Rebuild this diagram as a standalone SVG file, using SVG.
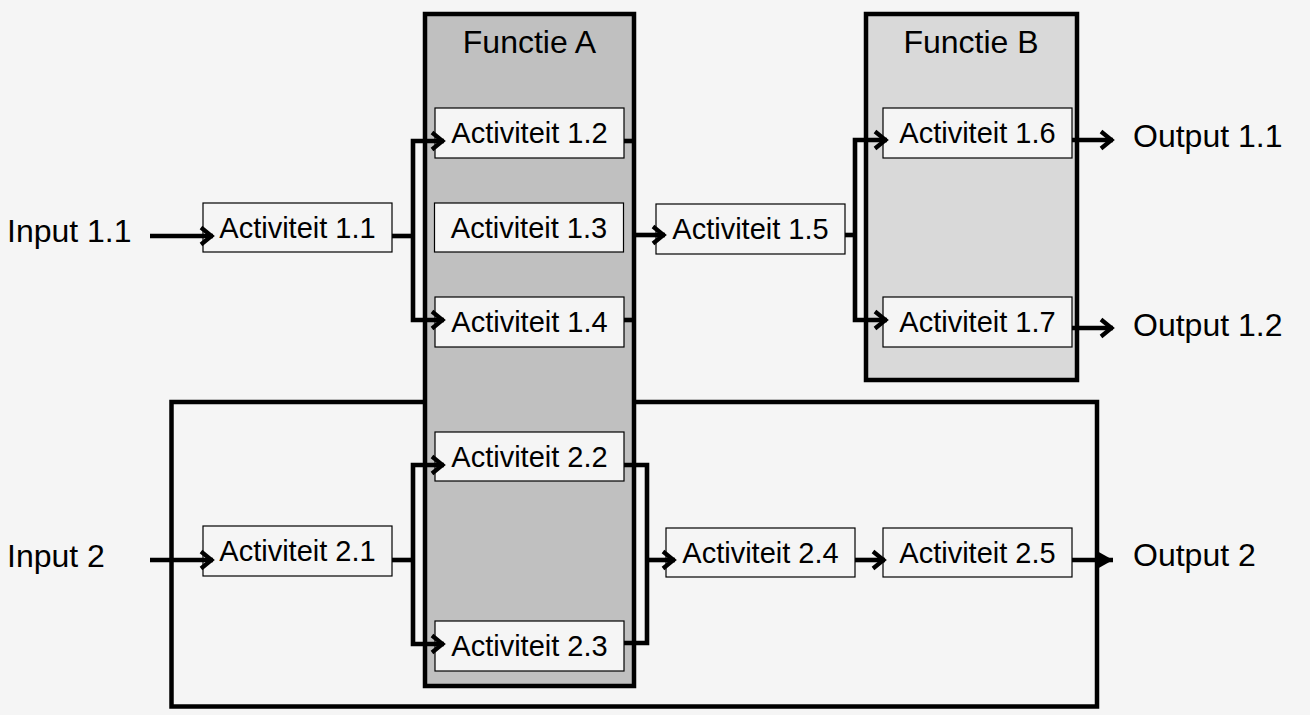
<svg xmlns="http://www.w3.org/2000/svg" width="1310" height="715" viewBox="0 0 1310 715">
<style>
.bg{fill:#f5f5f5}
.act rect{fill:#f5f5f5;stroke:#000;stroke-width:1.2}
.act text{font-family:"Liberation Sans",Arial,sans-serif;font-size:29px;fill:#000;text-anchor:middle}
.lbl{font-family:"Liberation Sans",Arial,sans-serif;font-size:32px;fill:#000}
.fn rect{stroke:#000;stroke-width:4.5}
.fn text{font-family:"Liberation Sans",Arial,sans-serif;font-size:32px;fill:#000;text-anchor:middle}
.c{fill:none;stroke:#000;stroke-width:4.6;stroke-linejoin:miter}
.ca{fill:none;stroke:#000;stroke-width:4.6;marker-end:url(#arr)}
.cf{fill:none;stroke:#000;stroke-width:4.6;marker-end:url(#arrf)}
</style>
<defs>
<marker id="arr" markerUnits="userSpaceOnUse" viewBox="-16 -12 18 24" refX="0" refY="0" markerWidth="18" markerHeight="24" orient="auto">
<path d="M-12,-8.5 L-1.5,0 L-12,8.5" fill="none" stroke="#000" stroke-width="4.2" stroke-linejoin="miter"/>
</marker>
<marker id="arrf" markerUnits="userSpaceOnUse" viewBox="-18 -11 20 22" refX="0" refY="0" markerWidth="20" markerHeight="22" orient="auto">
<path d="M-16,-9 L0,0 L-16,9 Z" fill="#000"/>
</marker>
</defs>
<rect class="bg" x="0" y="0" width="1310" height="715"/>

<g id="process2">
<rect x="171.5" y="402" width="925.5" height="304.5" fill="none" stroke="#000" stroke-width="4.5"/>
</g>

<g id="functieA" class="fn">
<rect x="425" y="14" width="209" height="672" fill="#c0c0c0"/>
<text x="529.5" y="53">Functie A</text>
</g>
<g id="functieB" class="fn">
<rect x="866" y="14" width="211" height="366" fill="#d9d9d9"/>
<text x="971" y="53">Functie B</text>
</g>

<g id="a11" class="act"><rect x="203" y="203" width="189" height="49"/><text x="297.5" y="238">Activiteit 1.1</text></g>
<g id="a12" class="act"><rect x="435" y="108" width="189" height="50"/><text x="529.5" y="143">Activiteit 1.2</text></g>
<g id="a13" class="act"><rect x="434.5" y="203" width="189" height="49"/><text x="529" y="238">Activiteit 1.3</text></g>
<g id="a14" class="act"><rect x="435" y="297" width="189" height="50"/><text x="529.5" y="332">Activiteit 1.4</text></g>
<g id="a15" class="act"><rect x="656" y="204" width="189" height="50"/><text x="750.5" y="239">Activiteit 1.5</text></g>
<g id="a16" class="act"><rect x="883" y="108" width="189" height="50"/><text x="977.5" y="143">Activiteit 1.6</text></g>
<g id="a17" class="act"><rect x="883" y="297" width="189" height="50"/><text x="977.5" y="332">Activiteit 1.7</text></g>
<g id="a21" class="act"><rect x="203" y="526" width="189" height="50"/><text x="297.5" y="561">Activiteit 2.1</text></g>
<g id="a22" class="act"><rect x="435" y="432" width="189" height="49"/><text x="529.5" y="467">Activiteit 2.2</text></g>
<g id="a23" class="act"><rect x="435" y="621" width="189" height="50"/><text x="529.5" y="656">Activiteit 2.3</text></g>
<g id="a24" class="act"><rect x="666" y="528" width="189" height="49"/><text x="760.5" y="563">Activiteit 2.4</text></g>
<g id="a25" class="act"><rect x="883" y="528" width="189" height="49"/><text x="977.5" y="563">Activiteit 2.5</text></g>

<g id="labels">
<text class="lbl" x="7" y="242">Input 1.1</text>
<text class="lbl" x="7" y="567">Input 2</text>
<text class="lbl" x="1133" y="147">Output 1.1</text>
<text class="lbl" x="1133" y="336">Output 1.2</text>
<text class="lbl" x="1133" y="566">Output 2</text>
</g>

<g id="connectors">
<line class="ca" x1="150" y1="236" x2="213" y2="236"/>
<polyline class="c" points="392,236 413,236"/>
<polyline class="ca" points="413,236 413,141 444,141"/>
<polyline class="ca" points="413,236 413,320 444,320"/>
<line class="c" x1="624" y1="141" x2="634" y2="141"/>
<line class="c" x1="624" y1="320" x2="634" y2="320"/>
<line class="ca" x1="634" y1="235" x2="665" y2="235"/>
<line class="c" x1="845" y1="235" x2="855" y2="235"/>
<polyline class="ca" points="855,235 855,140 887,140"/>
<polyline class="ca" points="855,235 855,320 887,320"/>
<line class="ca" x1="1072" y1="140" x2="1113" y2="140"/>
<line class="ca" x1="1072" y1="328" x2="1113" y2="328"/>

<line class="ca" x1="150" y1="560" x2="213" y2="560"/>
<line class="c" x1="392" y1="560" x2="413" y2="560"/>
<polyline class="ca" points="413,560 413,465 444,465"/>
<polyline class="ca" points="413,560 413,644 444,644"/>
<polyline class="c" points="624,465 647,465 647,643 624,643"/>
<line class="ca" x1="647" y1="560" x2="675" y2="560"/>
<line class="ca" x1="855" y1="560" x2="885" y2="560"/>
<line class="cf" x1="1072" y1="560" x2="1113" y2="560"/>
</g>
</svg>
